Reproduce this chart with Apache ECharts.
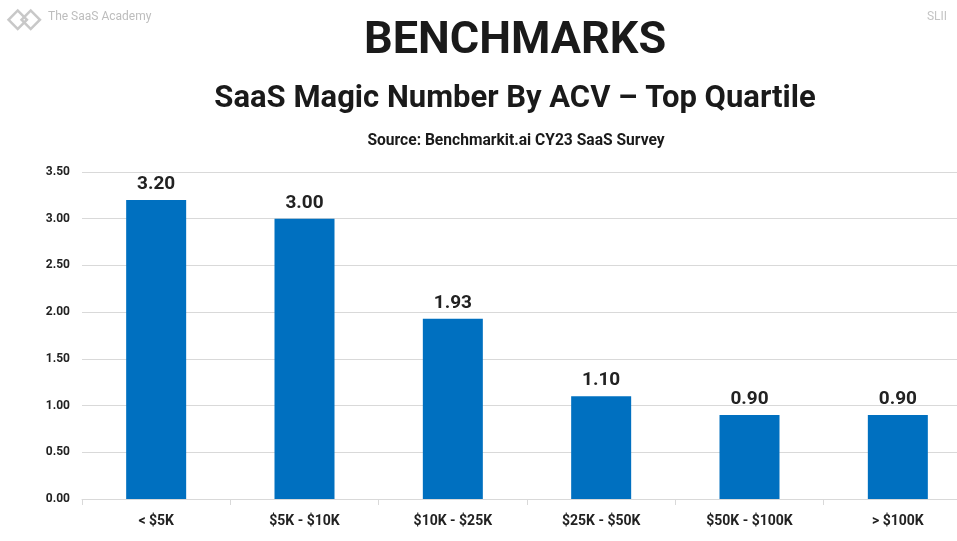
<!DOCTYPE html>
<html>
<head>
<meta charset="utf-8">
<style>
  html, body { margin: 0; padding: 0; background: #fff; }
  #chart { width: 957px; height: 541px; }
</style>
<script src="https://cdn.jsdelivr.net/npm/echarts@6/dist/echarts.min.js"></script>
</head>
<body>
<div id="chart"></div>
<script>
const categories = ['< $5K', '$5K - $10K', '$10K - $25K', '$25K - $50K', '$50K - $100K', '> $100K'];
const magicNumber = [3.20, 3.00, 1.93, 1.10, 0.90, 0.90];

const chart = echarts.init(document.getElementById('chart'));

const option = {
  backgroundColor: '#ffffff',
  animation: false,
  graphic: [
    // little diamond logo, top left
    {
      type: 'group', left: 5, top: 7,
      children: [
        { type: 'rect', shape: { x: 0, y: 0, width: 13, height: 13 }, rotation: Math.PI / 4, x: 9, y: 0,
          style: { fill: 'none', stroke: '#c8c8c8', lineWidth: 2.5 } },
        { type: 'rect', shape: { x: 0, y: 0, width: 13, height: 13 }, rotation: Math.PI / 4, x: 22, y: 0,
          style: { fill: 'none', stroke: '#c8c8c8', lineWidth: 2.5 } }
      ]
    },
    { type: 'text', left: 48, top: 11,
      style: { text: 'The SaaS Academy', fill: '#bdbdbd', font: '12px Roboto' } },
    { type: 'text', right: 10, top: 11,
      style: { text: 'SLII', fill: '#c4c4c4', font: '12px Roboto' } }
  ],
  title: [
    { text: 'BENCHMARKS', left: 510, textAlign: 'center', top: 14,
      textStyle: { fontFamily: 'Roboto', fontWeight: 'bold', fontSize: 45, color: '#1a1a1a' } },
    { text: 'SaaS Magic Number By ACV – Top Quartile', left: 510, textAlign: 'center', top: 79,
      textStyle: { fontFamily: 'Roboto', fontWeight: 'bold', fontSize: 31, color: '#1a1a1a' } },
    { text: 'Source: Benchmarkit.ai CY23 SaaS Survey', left: 511, textAlign: 'center', top: 128,
      textStyle: { fontFamily: 'Roboto', fontWeight: 'bold', fontSize: 15.6, color: '#1a1a1a' } }
  ],
  grid: { left: 82, top: 172, width: 890, height: 327, outerBoundsMode: 'none', containLabel: false },
  xAxis: {
    type: 'category',
    data: categories,
    axisLine: { lineStyle: { color: '#d9d9d9' } },
    axisTick: { show: true, length: 6, lineStyle: { color: '#d9d9d9' } },
    axisLabel: { color: '#222', fontFamily: 'Roboto', fontWeight: 'bold', fontSize: 14, margin: 15 }
  },
  yAxis: {
    type: 'value',
    min: 0, max: 3.5, interval: 0.5,
    axisLine: { show: false },
    axisTick: { show: false },
    splitLine: { lineStyle: { color: '#d9d9d9' } },
    axisLabel: {
      color: '#222', fontFamily: 'Roboto', fontWeight: 'bold', fontSize: 12, margin: 12,
      formatter: v => v.toFixed(2)
    }
  },
  series: [{
    type: 'bar',
    data: magicNumber,
    barWidth: 60,
    itemStyle: { color: '#0070c0' },
    label: {
      show: true, position: 'top', distance: 6,
      color: '#222', fontFamily: 'Roboto', fontWeight: 'bold', fontSize: 19,
      formatter: p => p.value.toFixed(2)
    }
  }]
};

chart.setOption(option);
</script>
</body>
</html>
